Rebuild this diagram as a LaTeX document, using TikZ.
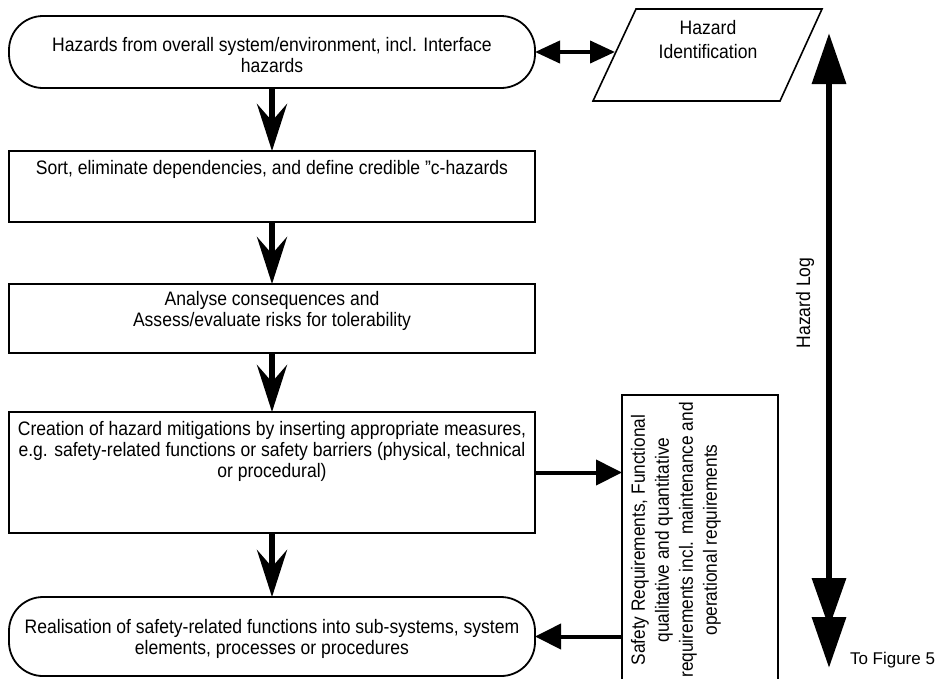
\documentclass[tikz,border=0pt]{standalone}
\usepackage{fontspec}
\setmainfont{Liberation Sans}[FakeStretch=0.9]
\newfontfamily\widesans{Liberation Sans}
\usetikzlibrary{arrows.meta}
\begin{document}
\begin{tikzpicture}[x=1pt,y=-1pt,
  every node/.style={inner sep=0pt, outer sep=0pt},
  flowbox/.style={draw, line width=1.8pt, minimum width=526pt},
  termbox/.style={flowbox, rounded corners=34pt},
  txt/.style={align=center, font=\fontsize{19.5}{21}\selectfont},
  flowarrow/.style={line width=6pt, -{Stealth[length=47pt,width=30pt,inset=17pt]}},
  sidearrow/.style={line width=4pt, -{Triangle[length=26pt,width=25pt]}},
  botharrow/.style={line width=4pt, {Triangle[length=25pt,width=22pt]}-{Triangle[length=25pt,width=22pt]}},
  logline/.style={line width=6.5pt}
]
\useasboundingbox (0,0) rectangle (941,678);
\clip (0,0) rectangle (941,678);

% main column
\node[termbox, minimum height=72pt] (t1) at (272,52) {};
\node[txt] (t1t) at (272,55) {Hazards from overall system/environment, incl. Interface\\hazards};

\node[flowbox, minimum height=71pt] (b2) at (272,186.5) {};
\node[txt, anchor=north] (b2t) at (272,160) {Sort, eliminate dependencies, and define credible "c-hazards};

\node[flowbox, minimum height=69pt] (b3) at (272,318.5) {};
\node[txt] (b3t) at (272,311) {Analyse consequences and\\Assess/evaluate risks for tolerability};

\node[flowbox, minimum height=121pt] (b4) at (272,472.5) {};
\node[txt, anchor=north] (b4t) at (272,421) {Creation of hazard mitigations by inserting appropriate measures,\\e.g. safety-related functions or safety barriers (physical, technical\\or procedural)};

\node[termbox, minimum height=79pt] (t2) at (272,636.5) {};
\node[txt] (t2t) at (272,638.5) {Realisation of safety-related functions into sub-systems, system\\elements, processes or procedures};

\draw[flowarrow] (t1.south) -- (b2.north);
\draw[flowarrow] (b2.south) -- (b3.north);
\draw[flowarrow] (b3.south) -- (b4.north);
\draw[flowarrow] (b4.south) -- (t2.north);

% hazard identification
\draw[line width=1.6pt] (636,9) -- (822,9) -- (780,101) -- (593,101) -- cycle;
\coordinate (hzid) at (615,52);
\node[txt, font=\fontsize{19.5}{24}\selectfont] (hzidt) at (708,40) {Hazard\\Identification};
\draw[botharrow] (t1.east) -- (hzid);

% safety requirements
\node[draw, line width=1.8pt, minimum width=156pt, minimum height=300pt] (sr) at (700,545) {};
\node[txt, rotate=90, font=\fontsize{19.2}{24}\selectfont] (srt) at (676,540) {Safety Requirements, Functional\\qualitative and quantitative\\requirements incl. maintenance and\\operational requirements};
\draw[sidearrow] (b4.east) -- (b4.east -| sr.west);
\draw[sidearrow] (sr.west |- t2.east) -- (t2.east);

% hazard log
\coordinate (logtop) at (829,33);
\coordinate (logbot) at (829,668);
\coordinate (logmidstart) at (829,560);
\coordinate (logmid) at (829,628);
\draw[logline, {Triangle[length=51pt,width=33pt]}-{Triangle[length=51pt,width=33pt]}] (logtop) -- (logbot);
\draw[logline, -{Triangle[length=50pt,width=33pt]}] (logmidstart) -- (logmid);
\node[txt, rotate=90] (logt) at (805,303) {Hazard Log};
\node[font=\widesans\fontsize{17}{20}\selectfont, anchor=west] (fig5) at (850,660) {To Figure 5};
\end{tikzpicture}
\end{document}
